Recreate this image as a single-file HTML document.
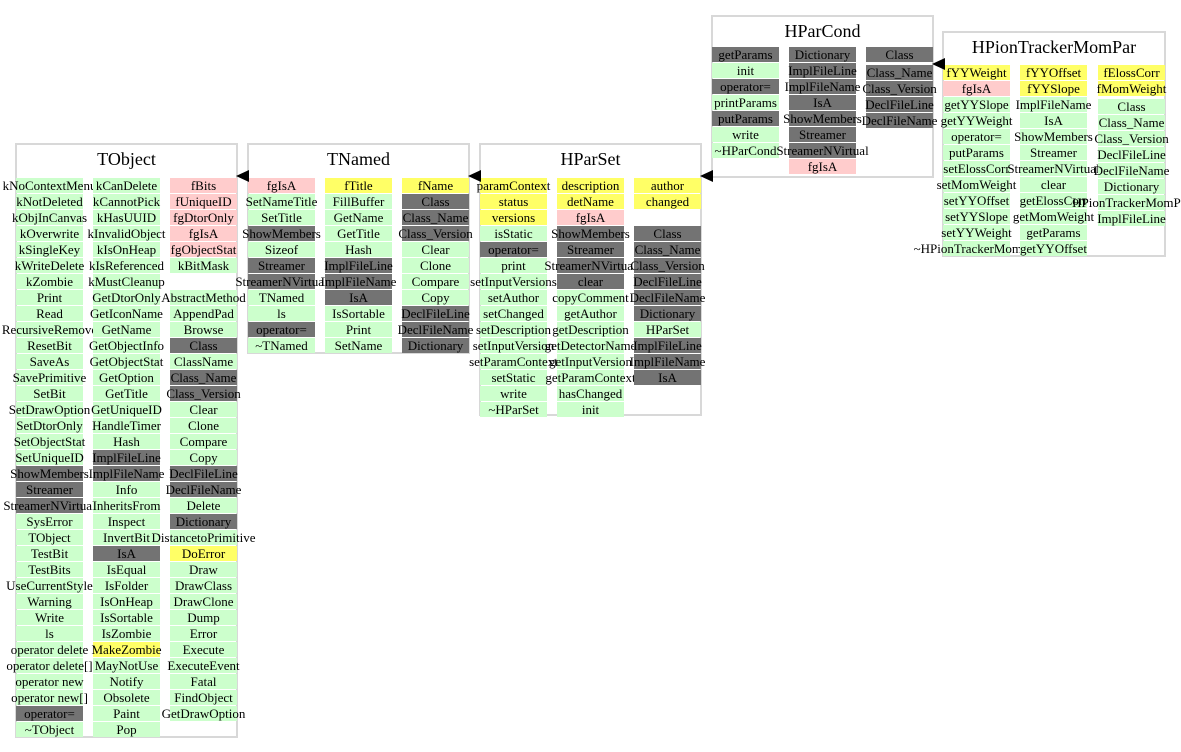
<!DOCTYPE html>
<html><head><meta charset="utf-8"><style>
body{margin:0;width:1181px;height:752px;background:#fff;position:relative;overflow:hidden;font-family:"Liberation Serif",serif}
.b{position:absolute;border:2px solid #d8d8d8;box-sizing:border-box;background:#fff}
.t{position:absolute;font-size:18px;text-align:center;width:100%}
.col{position:absolute;width:67px}
.col div{height:15px;margin-bottom:1px;line-height:15px;font-size:13px;display:flex;justify-content:center;white-space:nowrap;background:#ccffcc;color:#000}
.col div.g{background:#737373}
.col div.p{background:#ffcccc}
.col div.y{background:#ffff66}
.col div.e{background:transparent}
.ar{position:absolute;width:0;height:0;border-top:6px solid transparent;border-bottom:6px solid transparent;border-right:13px solid #000}
</style></head><body>

<div class="b" style="left:15px;top:143px;width:223px;height:595px"><div class="t" style="top:4px">TObject</div></div>
<div class="col" style="left:16px;top:178px">
<div>kNoContextMenu</div><div>kNotDeleted</div><div>kObjInCanvas</div><div>kOverwrite</div><div>kSingleKey</div><div>kWriteDelete</div><div>kZombie</div><div>Print</div><div>Read</div><div>RecursiveRemove</div><div>ResetBit</div><div>SaveAs</div><div>SavePrimitive</div><div>SetBit</div><div>SetDrawOption</div><div>SetDtorOnly</div><div>SetObjectStat</div><div>SetUniqueID</div><div class="g">ShowMembers</div><div class="g">Streamer</div><div class="g">StreamerNVirtual</div><div>SysError</div><div>TObject</div><div>TestBit</div><div>TestBits</div><div>UseCurrentStyle</div><div>Warning</div><div>Write</div><div>ls</div><div>operator delete</div><div>operator delete[]</div><div>operator new</div><div>operator new[]</div><div class="g">operator=</div><div>~TObject</div></div>
<div class="col" style="left:93px;top:178px">
<div>kCanDelete</div><div>kCannotPick</div><div>kHasUUID</div><div>kInvalidObject</div><div>kIsOnHeap</div><div>kIsReferenced</div><div>kMustCleanup</div><div>GetDtorOnly</div><div>GetIconName</div><div>GetName</div><div>GetObjectInfo</div><div>GetObjectStat</div><div>GetOption</div><div>GetTitle</div><div>GetUniqueID</div><div>HandleTimer</div><div>Hash</div><div class="g">ImplFileLine</div><div class="g">ImplFileName</div><div>Info</div><div>InheritsFrom</div><div>Inspect</div><div>InvertBit</div><div class="g">IsA</div><div>IsEqual</div><div>IsFolder</div><div>IsOnHeap</div><div>IsSortable</div><div>IsZombie</div><div class="y">MakeZombie</div><div>MayNotUse</div><div>Notify</div><div>Obsolete</div><div>Paint</div><div>Pop</div></div>
<div class="col" style="left:170px;top:178px">
<div class="p">fBits</div><div class="p">fUniqueID</div><div class="p">fgDtorOnly</div><div class="p">fgIsA</div><div class="p">fgObjectStat</div><div>kBitMask</div><div class="e"></div><div>AbstractMethod</div><div>AppendPad</div><div>Browse</div><div class="g">Class</div><div>ClassName</div><div class="g">Class_Name</div><div class="g">Class_Version</div><div>Clear</div><div>Clone</div><div>Compare</div><div>Copy</div><div class="g">DeclFileLine</div><div class="g">DeclFileName</div><div>Delete</div><div class="g">Dictionary</div><div>DistancetoPrimitive</div><div class="y">DoError</div><div>Draw</div><div>DrawClass</div><div>DrawClone</div><div>Dump</div><div>Error</div><div>Execute</div><div>ExecuteEvent</div><div>Fatal</div><div>FindObject</div><div>GetDrawOption</div></div>

<div class="b" style="left:247px;top:143px;width:223px;height:211px"><div class="t" style="top:4px">TNamed</div></div>
<div class="col" style="left:248px;top:178px">
<div class="p">fgIsA</div><div>SetNameTitle</div><div>SetTitle</div><div class="g">ShowMembers</div><div>Sizeof</div><div class="g">Streamer</div><div class="g">StreamerNVirtual</div><div>TNamed</div><div>ls</div><div class="g">operator=</div><div>~TNamed</div></div>
<div class="col" style="left:325px;top:178px">
<div class="y">fTitle</div><div>FillBuffer</div><div>GetName</div><div>GetTitle</div><div>Hash</div><div class="g">ImplFileLine</div><div class="g">ImplFileName</div><div class="g">IsA</div><div>IsSortable</div><div>Print</div><div>SetName</div></div>
<div class="col" style="left:402px;top:178px">
<div class="y">fName</div><div class="g">Class</div><div class="g">Class_Name</div><div class="g">Class_Version</div><div>Clear</div><div>Clone</div><div>Compare</div><div>Copy</div><div class="g">DeclFileLine</div><div class="g">DeclFileName</div><div class="g">Dictionary</div></div>

<div class="b" style="left:479px;top:143px;width:223px;height:273px"><div class="t" style="top:4px">HParSet</div></div>
<div class="col" style="left:480px;top:178px">
<div class="y">paramContext</div><div class="y">status</div><div class="y">versions</div><div>isStatic</div><div class="g">operator=</div><div>print</div><div>setInputVersions</div><div>setAuthor</div><div>setChanged</div><div>setDescription</div><div>setInputVersion</div><div>setParamContext</div><div>setStatic</div><div>write</div><div>~HParSet</div></div>
<div class="col" style="left:557px;top:178px">
<div class="y">description</div><div class="y">detName</div><div class="p">fgIsA</div><div class="g">ShowMembers</div><div class="g">Streamer</div><div class="g">StreamerNVirtual</div><div class="g">clear</div><div>copyComment</div><div>getAuthor</div><div>getDescription</div><div>getDetectorName</div><div>getInputVersion</div><div>getParamContext</div><div>hasChanged</div><div>init</div></div>
<div class="col" style="left:634px;top:178px">
<div class="y">author</div><div class="y">changed</div><div class="e"></div><div class="g">Class</div><div class="g">Class_Name</div><div class="g">Class_Version</div><div class="g">DeclFileLine</div><div class="g">DeclFileName</div><div class="g">Dictionary</div><div>HParSet</div><div class="g">ImplFileLine</div><div class="g">ImplFileName</div><div class="g">IsA</div></div>

<div class="b" style="left:711px;top:15px;width:223px;height:163px"><div class="t" style="top:4px">HParCond</div></div>
<div class="col" style="left:712px;top:47px">
<div class="g">getParams</div><div>init</div><div class="g">operator=</div><div>printParams</div><div class="g">putParams</div><div>write</div><div>~HParCond</div></div>
<div class="col" style="left:789px;top:47px">
<div class="g">Dictionary</div><div class="g">ImplFileLine</div><div class="g">ImplFileName</div><div class="g">IsA</div><div class="g">ShowMembers</div><div class="g">Streamer</div><div class="g">StreamerNVirtual</div><div class="p">fgIsA</div></div>
<div class="col" style="left:866px;top:47px">
<div class="g" style="margin-bottom:3px">Class</div><div class="g">Class_Name</div><div class="g">Class_Version</div><div class="g">DeclFileLine</div><div class="g">DeclFileName</div></div>

<div class="b" style="left:942px;top:31px;width:224px;height:226px"><div class="t" style="top:4px">HPionTrackerMomPar</div></div>
<div class="col" style="left:943px;top:65px">
<div class="y">fYYWeight</div><div class="p">fgIsA</div><div>getYYSlope</div><div>getYYWeight</div><div>operator=</div><div>putParams</div><div>setElossCorr</div><div>setMomWeight</div><div>setYYOffset</div><div>setYYSlope</div><div>setYYWeight</div><div>~HPionTrackerMomPar</div></div>
<div class="col" style="left:1020px;top:65px">
<div class="y">fYYOffset</div><div class="y">fYYSlope</div><div>ImplFileName</div><div>IsA</div><div>ShowMembers</div><div>Streamer</div><div>StreamerNVirtual</div><div>clear</div><div>getElossCorr</div><div>getMomWeight</div><div>getParams</div><div>getYYOffset</div></div>
<div class="col" style="left:1098px;top:65px">
<div class="y">fElossCorr</div><div class="y" style="margin-bottom:3px">fMomWeight</div><div>Class</div><div>Class_Name</div><div>Class_Version</div><div>DeclFileLine</div><div>DeclFileName</div><div>Dictionary</div><div>HPionTrackerMomPar</div><div>ImplFileLine</div></div>

<div class="ar" style="left:236px;top:170px"></div>
<div class="ar" style="left:468px;top:170px"></div>
<div class="ar" style="left:700px;top:170px"></div>
<div class="ar" style="left:932px;top:58px"></div>
</body></html>
